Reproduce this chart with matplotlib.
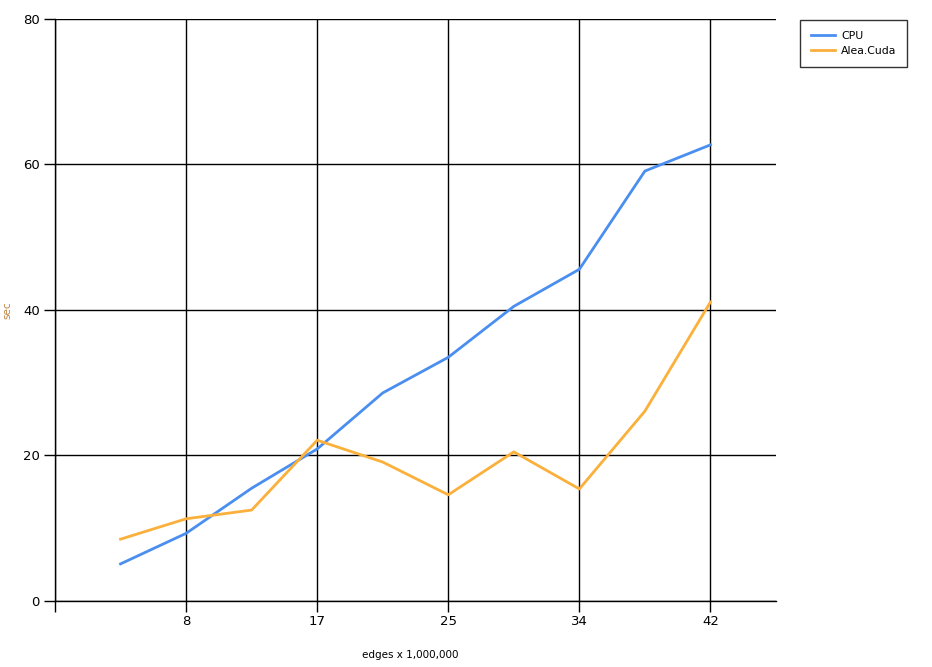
import matplotlib
matplotlib.use("Agg")
import matplotlib.pyplot as plt

positions = [1, 2, 3, 4, 5, 6, 7, 8, 9, 10]
cpu = [5.1, 9.3, 15.5, 20.9, 28.6, 33.5, 40.5, 45.6, 59.1, 62.7]
alea = [8.5, 11.3, 12.5, 22.1, 19.1, 14.6, 20.5, 15.4, 26.1, 41.1]
tick_pos = [0, 2, 4, 6, 8, 10]
tick_labels = ["", "8", "17", "25", "34", "42"]
yticks = [0, 20, 40, 60, 80]

W, H = 932, 667
fig = plt.figure(figsize=(W/100, H/100), dpi=100)
ax = fig.add_axes([55/W, (H-601)/H, (776-55)/W, (601-19)/H])

ax.plot(positions, cpu, color="#4a8ef0", lw=2, label="CPU")
ax.plot(positions, alea, color="#fbb03b", lw=2, label="Alea.Cuda")

ax.set_xlim(0, 11)
ax.set_ylim(0, 80)
ax.set_xticks(tick_pos)
ax.set_xticklabels(tick_labels)
ax.set_yticks(yticks)
ax.grid(True, color="black", lw=1)
ax.set_axisbelow(True)
for s in ["top", "right"]:
    ax.spines[s].set_visible(False)
for s in ["left", "bottom"]:
    ax.spines[s].set_linewidth(1)
ax.tick_params(axis="both", length=8, width=1, labelsize=9.5, colors="black")
ax.tick_params(axis="x", pad=2)
ax.tick_params(axis="y", pad=3)

fig.text(410/W, 1 - 655/H, "edges x 1,000,000", ha="center", va="center", fontsize=7.5)
fig.text(2/W, 1 - 310/H, "sec", ha="left", va="center", fontsize=7.5, rotation=90, color="#c08040")

leg = ax.legend(loc="upper left", bbox_to_anchor=(800/W, 1 - 20/H), bbox_transform=fig.transFigure,
                borderaxespad=0, fontsize=7.8, frameon=True, fancybox=False, edgecolor="black",
                borderpad=1.0, handlelength=2.2, labelspacing=0.45, handletextpad=0.6)
leg.get_frame().set_linewidth(1)

fig.savefig("out.png", dpi=100)
